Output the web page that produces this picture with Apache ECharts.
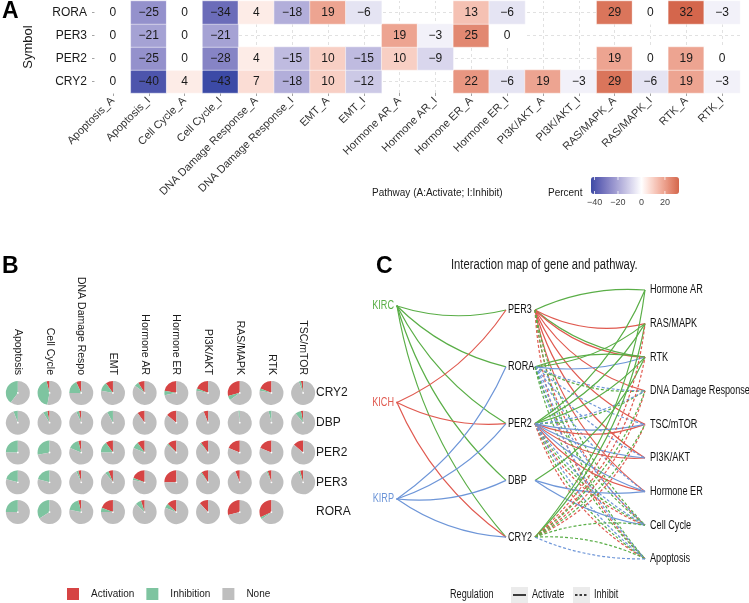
<!DOCTYPE html>
<html><head><meta charset="utf-8">
<script src="https://cdn.jsdelivr.net/npm/echarts@6/dist/echarts.min.js"></script>
<style>html,body{margin:0;padding:0;background:#fff}#c{width:749px;height:603px}</style>
</head><body><div id="c"></div>
<script>
// ---------- Panel A data ----------
const heatPathways = ['Apoptosis_A','Apoptosis_I','Cell Cycle_A','Cell Cycle_I','DNA Damage Response_A','DNA Damage Response_I','EMT_A','EMT_I','Hormone AR_A','Hormone AR_I','Hormone ER_A','Hormone ER_I','PI3K/AKT_A','PI3K/AKT_I','RAS/MAPK_A','RAS/MAPK_I','RTK_A','RTK_I'];
const heatSymbols = ['CRY2','PER2','PER3','RORA'];
const heatRORA = [0,-25,0,-34,4,-18,19,-6,null,null,13,-6,null,null,29,0,32,-3];
const heatPER3 = [0,-21,0,-21,null,null,null,null,19,-3,25,0,null,null,null,null,null,null];
const heatPER2 = [0,-25,0,-28,4,-15,10,-15,10,-9,null,null,null,null,19,0,19,0];
const heatCRY2 = [0,-40,4,-43,7,-18,10,-12,null,null,22,-6,19,-3,29,-6,19,-3];
const percentTicks = [-40,-20,0,20];

// ---------- Panel B data ----------
const pieGenes = ['CRY2','DBP','PER2','PER3','RORA'];
const piePathways = ['Apoptosis','Cell Cycle','DNA Damage Response','EMT','Hormone AR','Hormone ER','PI3K/AKT','RAS/MAPK','RTK','TSC/mTOR'];
const actCRY2 = [0,4,7,10,9,22,19,29,19,3];
const inhCRY2 = [40,43,18,12,6,6,3,6,3,3];
const actDBP  = [0,3,3,0,10,14,6,0,0,3];
const inhDBP  = [6,6,4,8,0,0,0,2,4,8];
const actPER2 = [0,0,4,10,10,12,10,19,19,14];
const inhPER2 = [25,28,15,15,9,2,2,0,0,0];
const actPER3 = [0,0,4,6,19,25,9,6,5,4];
const inhPER3 = [21,21,3,5,3,0,2,0,2,3];
const actRORA = [0,0,4,19,5,13,12,29,32,null];
const inhRORA = [25,34,18,6,8,6,0,0,3,null];
const pieClasses = ['Activation','Inhibition','None'];

// ---------- Panel C data ----------
const cancers = ['KIRC','KICH','KIRP'];
const genesC = ['PER3','RORA','PER2','DBP','CRY2'];
const pathwaysC = ['Hormone AR','RAS/MAPK','RTK','DNA Damage Response','TSC/mTOR','PI3K/AKT','Hormone ER','Cell Cycle','Apoptosis'];
const cancerGene = [
 ['KIRC','PER3'],['KIRC','RORA'],['KIRC','PER2'],['KIRC','DBP'],['KIRC','CRY2'],
 ['KICH','PER3'],['KICH','PER2'],['KICH','CRY2'],
 ['KIRP','RORA'],['KIRP','PER2'],['KIRP','DBP'],['KIRP','CRY2']
];
const genePathway = [
 ['PER3','Hormone AR','KIRC','Activate'],['PER3','RAS/MAPK','KICH','Activate'],['PER3','RTK','KIRC','Activate'],
 ['PER3','RTK','KICH','Activate'],['PER3','DNA Damage Response','KICH','Activate'],['PER3','TSC/mTOR','KICH','Activate'],
 ['PER3','PI3K/AKT','KICH','Activate'],['PER3','Hormone ER','KICH','Activate'],
 ['PER3','Cell Cycle','KICH','Inhibit'],['PER3','Apoptosis','KICH','Inhibit'],['PER3','Cell Cycle','KIRC','Inhibit'],['PER3','Apoptosis','KIRC','Inhibit'],
 ['RORA','RAS/MAPK','KIRC','Activate'],['RORA','RTK','KIRC','Activate'],['RORA','RTK','KIRP','Activate'],
 ['RORA','DNA Damage Response','KIRC','Inhibit'],['RORA','DNA Damage Response','KIRP','Inhibit'],
 ['RORA','TSC/mTOR','KIRP','Inhibit'],['RORA','PI3K/AKT','KIRP','Inhibit'],['RORA','Hormone ER','KIRP','Inhibit'],
 ['RORA','Cell Cycle','KIRP','Inhibit'],['RORA','Apoptosis','KIRP','Inhibit'],['RORA','Cell Cycle','KIRC','Inhibit'],['RORA','Apoptosis','KIRC','Inhibit'],
 ['PER2','Hormone AR','KIRC','Activate'],['PER2','RAS/MAPK','KIRC','Activate'],['PER2','RTK','KIRC','Activate'],
 ['PER2','TSC/mTOR','KICH','Activate'],['PER2','TSC/mTOR','KIRP','Activate'],['PER2','PI3K/AKT','KICH','Activate'],
 ['PER2','PI3K/AKT','KIRP','Activate'],['PER2','Hormone ER','KICH','Activate'],['PER2','Hormone ER','KIRP','Activate'],
 ['PER2','DNA Damage Response','KIRC','Inhibit'],['PER2','DNA Damage Response','KIRP','Inhibit'],
 ['PER2','Cell Cycle','KIRC','Inhibit'],['PER2','Cell Cycle','KICH','Inhibit'],['PER2','Cell Cycle','KIRP','Inhibit'],
 ['PER2','Apoptosis','KIRC','Inhibit'],['PER2','Apoptosis','KICH','Inhibit'],['PER2','Apoptosis','KIRP','Inhibit'],
 ['DBP','RTK','KIRC','Activate'],['DBP','Hormone ER','KIRP','Activate'],['DBP','Cell Cycle','KIRP','Activate'],
 ['CRY2','Hormone AR','KIRC','Activate'],['CRY2','RAS/MAPK','KIRC','Activate'],
 ['CRY2','RAS/MAPK','KICH','Inhibit'],['CRY2','RTK','KICH','Inhibit'],['CRY2','DNA Damage Response','KICH','Inhibit'],
 ['CRY2','TSC/mTOR','KICH','Inhibit'],['CRY2','DNA Damage Response','KIRC','Inhibit'],['CRY2','TSC/mTOR','KIRC','Inhibit'],
 ['CRY2','Cell Cycle','KIRC','Inhibit'],['CRY2','Apoptosis','KIRC','Inhibit'],['CRY2','Apoptosis','KIRP','Inhibit']
];

// ---------- styles ----------
const FONT = "'Liberation Sans', Arial, sans-serif";
const NARROW_SCALE = 0.76;
const cancerColor = {KIRC:'#5AAE47', KICH:'#E05A50', KIRP:'#6E96D8'};
const pieColor = {Activation:'#D64444', Inhibition:'#7EC4A0', None:'#BEBEBE'};
const MINUS = '\u2212';
const fmtNum = v => (v < 0 ? MINUS + Math.abs(v) : String(v));

// Lab interpolation for a gradient2-like palette (white at 0)
function s2l(c){c/=255;return c<=0.04045?c/12.92:Math.pow((c+0.055)/1.055,2.4);}
function l2s(c){c=c<=0.0031308?12.92*c:1.055*Math.pow(c,1/2.4)-0.055;return Math.round(Math.max(0,Math.min(1,c))*255);}
function rgb2lab(rgb){const r=s2l(rgb[0]),g=s2l(rgb[1]),b=s2l(rgb[2]);
 const x=(0.4124*r+0.3576*g+0.1805*b)/0.95047,y=0.2126*r+0.7152*g+0.0722*b,z=(0.0193*r+0.1192*g+0.9505*b)/1.08883;
 const f=t=>t>0.008856?Math.cbrt(t):7.787*t+16/116;const fx=f(x),fy=f(y),fz=f(z);
 return [116*fy-16,500*(fx-fy),200*(fy-fz)];}
function lab2rgb(lab){const fy=(lab[0]+16)/116,fx=fy+lab[1]/500,fz=fy-lab[2]/200;
 const fi=t=>t>0.206893?t*t*t:(t-16/116)/7.787;
 const x=fi(fx)*0.95047,y=fi(fy),z=fi(fz)*1.08883;
 return [l2s(3.2406*x-1.5372*y-0.4986*z),l2s(-0.9689*x+1.8758*y+0.0415*z),l2s(0.0557*x-0.2040*y+1.0570*z)];}
const lowLab=rgb2lab([60,74,166]), highLab=rgb2lab([212,102,76]), whiteLab=rgb2lab([255,255,255]);
const allHeat = heatRORA.concat(heatPER3, heatPER2, heatCRY2).filter(v => v !== null);
const vMin = Math.min(...allHeat), vMax = Math.max(...allHeat);
const heatColors = [];
for (let v = vMin; v <= vMax; v++) {
  const end = v < 0 ? lowLab : highLab, t = v < 0 ? v / vMin : v / vMax;
  const c = lab2rgb([0,1,2].map(k => whiteLab[k] + (end[k]-whiteLab[k]) * t));
  heatColors.push('rgb(' + c.join(',') + ')');
}

// heatmap data
const heatRows = {RORA: heatRORA, PER3: heatPER3, PER2: heatPER2, CRY2: heatCRY2};
const heatData = [];
heatSymbols.forEach((s, yi) => heatRows[s].forEach((v, xi) => { if (v !== null) heatData.push([xi, yi, v]); }));

// ---------- layout ----------
const HEAT = {left: 95, top: 1, width: 645, height: 92};
const BAR = {left: 591, top: 177, len: 88, thick: 17};
const PIEGRID = {left: 2, top: 378, width: 317, height: 149};
const CX = {cancer: 397, geneIn: 506, geneOut: 535, path: 645};
const cancerY = i => 306 + i * 96.5;
const geneY = i => 310 + i * 56.8;
const pathY = i => 290 + i * 33.6;

const chart = echarts.init(document.getElementById('c'), null, {renderer: 'canvas'});

const graphics = [];
const addText = (x, y, text, o, sx) => graphics.push({type:'text', x, y, scaleX: sx || 1, silent:true, z: 50,
  style: Object.assign({text, font: '12px ' + FONT, fill: '#1a1a1a', textVerticalAlign: 'middle'}, o || {})});
addText(2, 12, 'A', {font: 'bold 23px ' + FONT, fill: '#000'});
addText(2, 267, 'B', {font: 'bold 23px ' + FONT, fill: '#000'});
addText(376, 267, 'C', {font: 'bold 23px ' + FONT, fill: '#000'});
addText(372, 193, 'Pathway (A:Activate; I:Inhibit)', {font: '10px ' + FONT});
addText(548, 193, 'Percent', {font: '10px ' + FONT});
percentTicks.forEach(t => {
  const px = BAR.left + (t - vMin) / (vMax - vMin) * BAR.len;
  addText(px, 203, fmtNum(t), {font: '9px ' + FONT, fill: '#444', textAlign: 'center'});
  graphics.push({type:'line', silent:true, z: 100, shape:{x1:px, y1:BAR.top, x2:px, y2:BAR.top+3}, style:{stroke:'#fff', lineWidth:0.8}});
  graphics.push({type:'line', silent:true, z: 100, shape:{x1:px, y1:BAR.top+BAR.thick-3, x2:px, y2:BAR.top+BAR.thick}, style:{stroke:'#fff', lineWidth:0.8}});
});
// Panel C texts (condensed look)
addText(451, 265, 'Interaction map of gene and pathway.', {font: '14px ' + FONT}, 0.8);
cancers.forEach((c, i) => addText(CX.cancer - 3, cancerY(i), c, {fill: cancerColor[c], textAlign: 'right'}, NARROW_SCALE));
genesC.forEach((g, i) => addText(CX.geneIn + 2, geneY(i), g, {fill: '#111'}, NARROW_SCALE));
pathwaysC.forEach((p, i) => addText(CX.path + 5, pathY(i), p, {fill: '#111'}, NARROW_SCALE));
addText(450, 595, 'Regulation', {}, NARROW_SCALE);
graphics.push({type:'rect', silent:true, shape:{x:511, y:587, width:17, height:16}, style:{fill:'#ebebeb'}});
graphics.push({type:'line', silent:true, shape:{x1:513, y1:595, x2:526, y2:595}, style:{stroke:'#000', lineWidth:1.5}});
addText(532, 595, 'Activate', {}, NARROW_SCALE);
graphics.push({type:'rect', silent:true, shape:{x:573, y:587, width:17, height:16}, style:{fill:'#ebebeb'}});
graphics.push({type:'line', silent:true, shape:{x1:575, y1:595, x2:588, y2:595}, style:{stroke:'#000', lineWidth:1.5, lineDash:[2.5,2]}});
addText(594, 595, 'Inhibit', {}, NARROW_SCALE);

// ---------- graph nodes ----------
const nodes = [
  {name:'__a0', x:0, y:0, symbolSize:0},
  {name:'__a1', x:749, y:603, symbolSize:0}
];
cancers.forEach((c, i) => nodes.push({name:c, x:CX.cancer, y:cancerY(i), symbolSize:2, itemStyle:{color:cancerColor[c]}}));
genesC.forEach((g, i) => {
  nodes.push({name:g+'#in', x:CX.geneIn, y:geneY(i), symbolSize:0});
  nodes.push({name:g+'#out', x:CX.geneOut, y:geneY(i), symbolSize:0});
});
pathwaysC.forEach((p, i) => nodes.push({name:p, x:CX.path, y:pathY(i), symbolSize:0}));

const flipped = ['PER3>Hormone AR>KIRC','RORA>RTK>KIRC','CRY2>Apoptosis>KIRC','CRY2>Cell Cycle>KIRC'];
const shift = {KIRC:0, KICH:-0.04, KIRP:0.04};
const links = [];
cancerGene.forEach(([c, g]) => links.push({source:c, target:g+'#in', lineStyle:{color:cancerColor[c], curveness:-0.14, type:'solid'}}));
genePathway.forEach(([g, p, c, r]) => {
  const flip = flipped.indexOf(g+'>'+p+'>'+c) >= 0;
  links.push({source:g+'#out', target:p, lineStyle:{color:cancerColor[c], curveness: flip ? 0.13 : -0.15 + shift[c],
    type: r === 'Inhibit' ? [3,2] : 'solid'}});
});

const option = {
  animation: false,
  textStyle: {fontFamily: FONT},
  graphic: graphics,
  grid: [
    {left: HEAT.left, top: HEAT.top, width: HEAT.width, height: HEAT.height},
    {left: PIEGRID.left, top: PIEGRID.top, width: PIEGRID.width, height: PIEGRID.height}
  ],
  xAxis: [
    {type:'category', gridIndex:0, data: heatPathways, axisLine:{show:false},
     axisTick:{show:true, alignWithLabel:true, length:3, lineStyle:{color:'#666', width:0.6}},
     axisLabel:{interval:0, rotate:45, fontSize:11, color:'#333', margin:6}, splitLine:{show:false}},
    {type:'category', gridIndex:1, data: piePathways, position:'top', axisLine:{show:false}, axisTick:{show:false},
     axisLabel:{interval:0, rotate:90, fontSize:10.5, color:'#1a1a1a', margin:3, width:104, overflow:'truncate', ellipsis:''}}
  ],
  yAxis: [
    {type:'category', gridIndex:0, data: heatSymbols, name:'Symbol', nameLocation:'middle', nameGap:60,
     nameTextStyle:{fontSize:13, color:'#1a1a1a'}, axisLine:{show:false},
     axisTick:{show:true, alignWithLabel:true, length:3, lineStyle:{color:'#666', width:0.6}},
     axisLabel:{fontSize:12, color:'#1a1a1a', margin:8}, splitLine:{show:false}},
    {type:'category', gridIndex:1, data: pieGenes, inverse:true, position:'right', axisLine:{show:false}, axisTick:{show:false},
     axisLabel:{fontSize:12, color:'#1a1a1a', margin:-3, align:'left'}}
  ],
  visualMap: {type:'continuous', seriesIndex:0, min:vMin, max:vMax, orient:'horizontal', left:BAR.left, top:BAR.top,
    itemWidth:BAR.thick, itemHeight:BAR.len, calculable:false, hoverLink:false, padding:0, text:null, showLabel:false,
    inRange:{color: heatColors}},
  legend: {data: pieClasses, left: 67, top: 588, padding: 0, itemWidth: 12, itemHeight: 12, itemGap: 12, icon: 'rect',
    selectedMode:false, textStyle:{fontSize:10, color:'#1a1a1a', padding:[0,0,0,7], fontFamily:FONT}},
  series: [
    {type:'heatmap', xAxisIndex:0, yAxisIndex:0, data: heatData, z: 10,
     label:{show:true, fontSize:12, color:'#1a1a1a', formatter: p => fmtNum(p.value[2])},
     itemStyle:{borderColor:'#ffffff', borderWidth:0.5}, emphasis:{disabled:true}},
    {type:'line', xAxisIndex:0, yAxisIndex:0, data: [], z:1, silent:true,
     markLine:{silent:true, z:1, symbol:['none','none'], label:{show:false}, animation:false,
       lineStyle:{type:[3,3], color:'#d4d4d4', width:0.7},
       data: heatPathways.map(p => ({xAxis:p})).concat(heatSymbols.map(s => ({yAxis:s})))}},
    {type:'graph', layout:'none', left:0, top:0, width:749, height:603, roam:false, silent:true,
     data: nodes, links: links, label:{show:false}, emphasis:{disabled:true},
     lineStyle:{width:1.2, opacity:1}, z: 2}
  ]
};
chart.setOption(option);

// ---------- pies placed by the hidden category grid ----------
const pieRows = {CRY2:[actCRY2,inhCRY2], DBP:[actDBP,inhDBP], PER2:[actPER2,inhPER2], PER3:[actPER3,inhPER3], RORA:[actRORA,inhRORA]};
const pieSeries = [];
pieGenes.forEach((g, gi) => {
  const [act, inh] = pieRows[g];
  piePathways.forEach((p, pi) => {
    if (act[pi] === null) return;
    const c = chart.convertToPixel({xAxisIndex:1, yAxisIndex:1}, [pi, gi]);
    const vals = [act[pi], inh[pi], 100 - act[pi] - inh[pi]];
    pieSeries.push({type:'pie', name: g + ' ' + p, center: c, radius: [0.9, 12], startAngle: 90, clockwise: false,
      silent: true, label:{show:false}, labelLine:{show:false}, emphasis:{disabled:true}, avoidLabelOverlap:false,
      data: pieClasses.map((k, ki) => ({name:k, value: vals[ki], itemStyle:{color: pieColor[k]}}))});
  });
});
chart.setOption({series: option.series.concat(pieSeries)});
</script></body></html>
